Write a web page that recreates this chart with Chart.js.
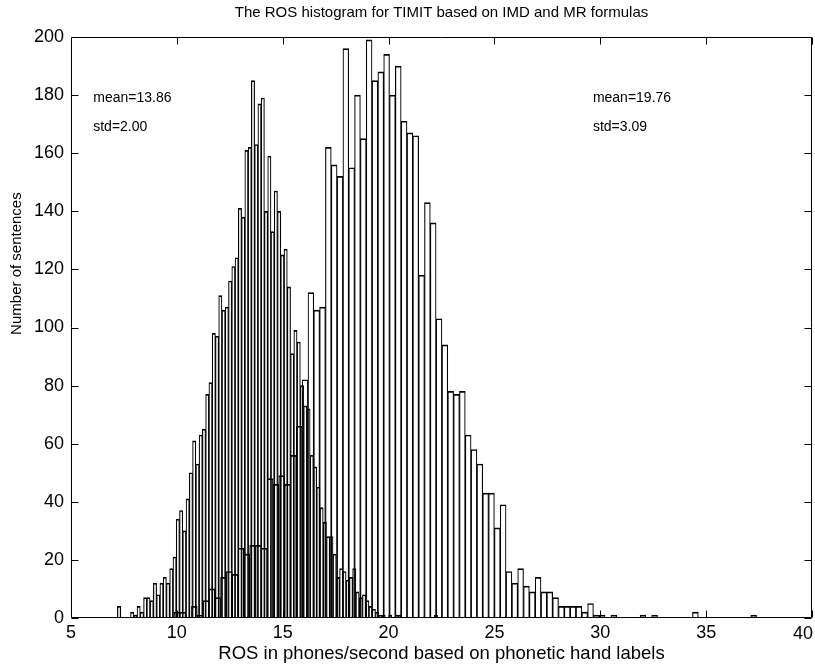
<!DOCTYPE html>
<html>
<head>
<meta charset="utf-8">
<script src="https://cdn.jsdelivr.net/npm/chart.js@4.4.1/dist/chart.umd.min.js"></script>
<style>
  html, body { margin: 0; padding: 0; background: #fff; }
</style>
</head>
<body>
<canvas id="myChart" width="815" height="669"></canvas>
<script>
// histogram bins (centre of first bin, bin width)
const imdStart = 7.27;
const imdWidth = 0.1543;
const mrStart = 10.0;
const mrWidth = 0.2752;

// IMD formula counts (mean=13.86, std=2.00)
const imdCounts = [
    4, 0, 0, 0, 2, 1, 4, 2, 7, 7,
    6, 12, 8, 12, 14, 12, 17, 21, 34, 37,
    30, 41, 50, 61, 53, 63, 65, 77, 81, 98,
    97, 111, 106, 107, 116, 121, 124, 141, 138, 161,
    162, 185, 163, 177, 179, 140, 159, 133, 147, 140,
    125, 127, 114, 91, 99, 95, 80, 73, 72, 56,
    52, 45, 38, 33, 28, 28, 22, 14, 17, 16,
    13, 14, 17, 9, 7, 8, 6, 4, 3, 2,
    1, 1, 0, 1, 0, 1, 1, 0, 0, 0,
    0, 0, 0, 0, 0, 0, 0, 1, 0, 0
];

// MR formula counts (mean=19.76, std=3.09)
const mrCounts = [
    2, 2, 0, 4, 1, 6, 10, 7, 14, 16,
    15, 24, 22, 25, 25, 24, 48, 46, 49, 46,
    56, 66, 82, 112, 106, 107, 162, 156, 152, 196,
    155, 180, 165, 199, 185, 188, 194, 180, 190, 171,
    167, 166, 118, 143, 136, 103, 94, 78, 77, 78,
    63, 58, 53, 43, 43, 31, 39, 16, 12, 17,
    11, 9, 14, 9, 9, 7, 4, 4, 4, 4,
    2, 5, 1, 1, 0, 1, 0, 0, 0, 0,
    1, 0, 1, 0, 0, 0, 0, 0, 0, 2,
    0, 0, 0, 0, 0, 0, 0, 0, 0, 1
];

const xTicks = [5, 10, 15, 20, 25, 30, 35, 40];
const yTicks = [0, 20, 40, 60, 80, 100, 120, 140, 160, 180, 200];

const notes = [
    { x: 6.05, y: 179, text: 'mean=13.86' },
    { x: 6.05, y: 169, text: 'std=2.00' },
    { x: 29.65, y: 179, text: 'mean=19.76' },
    { x: 29.65, y: 169, text: 'std=3.09' }
];

const titleText = 'The ROS histogram for TIMIT based on IMD and MR formulas';
const yLabel = { text: 'Number of sentences', at: 122 };

const toPoints = (counts, start, width) =>
    counts.map((c, i) => ({ x: start + i * width, y: c }));

const font = '"Liberation Sans", Arial, Helvetica, sans-serif';
const lastX = xTicks[xTicks.length - 1];

// box around the axes with inward ticks, the titles and the mean/std notes
const frame = {
    id: 'frame',
    afterDraw(chart) {
        const { ctx, chartArea: a, scales: { x, y } } = chart;
        const L = Math.round(a.left) + 0.5, R = Math.round(a.right) - 0.5;
        const T = Math.round(a.top) + 0.5, B = Math.round(a.bottom) - 0.5;
        const len = 7;
        ctx.save();
        ctx.strokeStyle = '#000';
        ctx.lineWidth = 1;
        ctx.beginPath();
        ctx.rect(L, T, R - L, B - T);
        xTicks.forEach(v => {
            const px = Math.round(x.getPixelForValue(v)) + 0.5;
            ctx.moveTo(px, B); ctx.lineTo(px, B - len);
            ctx.moveTo(px, T); ctx.lineTo(px, T + len);
        });
        yTicks.forEach(v => {
            const py = Math.round(y.getPixelForValue(v)) + 0.5;
            ctx.moveTo(L, py); ctx.lineTo(L + len, py);
            ctx.moveTo(R, py); ctx.lineTo(R - len, py);
        });
        ctx.stroke();
        ctx.fillStyle = '#000';
        ctx.textBaseline = 'middle';
        ctx.textAlign = 'center';
        ctx.font = '15px ' + font;
        ctx.fillText(titleText, (a.left + a.right) / 2, 13);
        ctx.save();
        ctx.translate(17, y.getPixelForValue(yLabel.at));
        ctx.rotate(-Math.PI / 2);
        ctx.fillText(yLabel.text, 0, 0);
        ctx.restore();
        // last x label would run off the canvas, keep it inside
        ctx.textAlign = 'right';
        ctx.font = '18px ' + font;
        ctx.fillText(String(lastX), x.getPixelForValue(lastX) + 1, 634);
        ctx.textAlign = 'left';
        ctx.font = '14px ' + font;
        notes.forEach(n => {
            ctx.fillText(n.text, x.getPixelForValue(n.x), y.getPixelForValue(n.y));
        });
        ctx.restore();
    }
};

const barStyle = {
    borderWidth: { top: 1, left: 0.5, right: 0.5, bottom: 0 },
    borderColor: '#000',
    backgroundColor: 'rgba(255, 255, 255, 0)',
    grouped: false
};

const ctx = document.getElementById('myChart').getContext('2d');
const myChart = new Chart(ctx, {
    type: 'bar',
    data: {
        datasets: [{
            label: 'IMD',
            data: toPoints(imdCounts, imdStart, imdWidth),
            barThickness: 3.27,
            ...barStyle
        },
        {
            label: 'MR',
            data: toPoints(mrCounts, mrStart, mrWidth),
            barThickness: 5.83,
            ...barStyle
        }]
    },
    options: {
        responsive: false,
        animation: false,
        devicePixelRatio: 1,
        layout: { padding: { top: 37, right: 3 } },
        plugins: {
            legend: { display: false },
            tooltip: { enabled: false }
        },
        scales: {
            x: {
                type: 'linear',
                min: 5,
                max: 40,
                offset: false,
                grid: { display: false, drawTicks: false },
                border: { display: false },
                ticks: {
                    stepSize: 5,
                    color: '#000',
                    padding: 4,
                    font: { family: font, size: 18 },
                    callback: v => (v === lastX ? '' : v)
                },
                title: {
                    display: true,
                    text: 'ROS in phones/second based on phonetic hand labels',
                    color: '#000',
                    font: { family: font, size: 18.5 },
                    padding: { top: 0, bottom: 4 }
                },
                afterFit(s) { s.height = 51; s.paddingLeft = 0; s.paddingRight = 0; }
            },
            y: {
                min: 0,
                max: 200,
                grid: { display: false, drawTicks: false },
                border: { display: false },
                ticks: { stepSize: 20, color: '#000', padding: 7, font: { family: font, size: 18 } },
                afterFit(s) { s.width = 71; s.paddingTop = 0; s.paddingBottom = 0; }
            }
        }
    },
    plugins: [frame]
});
</script>
</body>
</html>
